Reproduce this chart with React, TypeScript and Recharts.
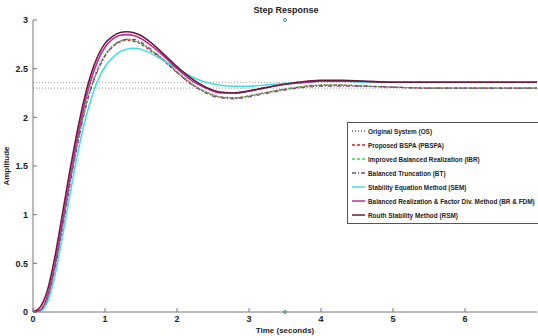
import {
  LineChart,
  Line,
  XAxis,
  YAxis,
  ReferenceLine,
  ReferenceDot
} from 'recharts'

const time = [0, 0.1, 0.2, 0.3, 0.4, 0.5, 0.6, 0.7, 0.8, 0.9, 1.0, 1.1, 1.2, 1.3, 1.4, 1.5, 1.6, 1.8, 2.0, 2.2, 2.4, 2.6, 2.8, 3.0, 3.2, 3.5, 3.8, 4.0, 4.3, 4.6, 5.0, 5.5, 6.0, 6.5, 7.0]

const os = [0, 0.02, 0.15, 0.45, 0.85, 1.28, 1.68, 2.03, 2.3, 2.5, 2.64, 2.73, 2.78, 2.8, 2.79, 2.76, 2.71, 2.6, 2.47, 2.35, 2.26, 2.21, 2.2, 2.22, 2.25, 2.29, 2.32, 2.33, 2.33, 2.32, 2.31, 2.3, 2.3, 2.3, 2.3]
const pbspa = [0, 0.02, 0.14, 0.44, 0.84, 1.27, 1.67, 2.02, 2.29, 2.49, 2.63, 2.72, 2.77, 2.79, 2.78, 2.75, 2.7, 2.59, 2.46, 2.34, 2.26, 2.21, 2.2, 2.22, 2.25, 2.29, 2.32, 2.33, 2.33, 2.32, 2.31, 2.3, 2.3, 2.3, 2.3]
const ibr = [0, 0.02, 0.15, 0.45, 0.85, 1.28, 1.68, 2.03, 2.3, 2.5, 2.64, 2.73, 2.78, 2.8, 2.79, 2.76, 2.71, 2.6, 2.47, 2.35, 2.26, 2.21, 2.2, 2.22, 2.25, 2.29, 2.32, 2.33, 2.33, 2.32, 2.31, 2.3, 2.3, 2.3, 2.3]
const bt = [0, 0.01, 0.13, 0.42, 0.82, 1.25, 1.65, 2.0, 2.28, 2.48, 2.63, 2.72, 2.78, 2.8, 2.8, 2.77, 2.72, 2.6, 2.46, 2.34, 2.25, 2.2, 2.19, 2.21, 2.24, 2.28, 2.31, 2.32, 2.32, 2.32, 2.31, 2.3, 2.3, 2.3, 2.3]
const sem = [0, 0.01, 0.1, 0.36, 0.74, 1.15, 1.55, 1.9, 2.17, 2.38, 2.52, 2.61, 2.67, 2.7, 2.71, 2.7, 2.67, 2.59, 2.5, 2.42, 2.36, 2.33, 2.32, 2.32, 2.33, 2.35, 2.36, 2.37, 2.37, 2.36, 2.36, 2.36, 2.36, 2.36, 2.36]
const brfdm = [0, 0.02, 0.16, 0.47, 0.88, 1.31, 1.72, 2.08, 2.37, 2.58, 2.72, 2.8, 2.84, 2.85, 2.84, 2.81, 2.76, 2.64, 2.5, 2.38, 2.3, 2.25, 2.25, 2.27, 2.3, 2.34, 2.36, 2.37, 2.37, 2.37, 2.36, 2.36, 2.36, 2.36, 2.36]
const rsm = [0, 0.05, 0.22, 0.55, 0.97, 1.4, 1.8, 2.15, 2.43, 2.63, 2.76, 2.83, 2.87, 2.88, 2.87, 2.84, 2.79, 2.66, 2.52, 2.4, 2.31, 2.26, 2.25, 2.27, 2.3, 2.34, 2.37, 2.38, 2.38, 2.37, 2.36, 2.36, 2.36, 2.36, 2.36]

const xTicks = [0, 1, 2, 3, 4, 5, 6]
const yTicks = [0, 0.5, 1, 1.5, 2, 2.5, 3]
const finalValues = [2.36, 2.3]

const series = [
  { key: 'os', name: 'Original System (OS)', color: '#5a5aa6', dash: '1 2', width: 1.2 },
  { key: 'pbspa', name: 'Proposed BSPA (PBSPA)', color: '#d0202a', dash: '3 2', width: 1.2 },
  { key: 'ibr', name: 'Improved Balanced Realization (IBR)', color: '#4ccc4c', dash: '3 2', width: 1.2 },
  { key: 'bt', name: 'Balanced Truncation (BT)', color: '#6e4a7e', dash: '4 2 1 2', width: 1.2 },
  { key: 'sem', name: 'Stability Equation Method (SEM)', color: '#44dede', dash: undefined, width: 1.6 },
  { key: 'brfdm', name: 'Balanced Realization & Factor Div. Method (BR & FDM)', color: '#c0309a', dash: undefined, width: 1.6 },
  { key: 'rsm', name: 'Routh Stability Method (RSM)', color: '#6a1a3a', dash: undefined, width: 1.6 }
]

const data = time.map((t, i) => ({
  t,
  os: os[i],
  pbspa: pbspa[i],
  ibr: ibr[i],
  bt: bt[i],
  sem: sem[i],
  brfdm: brfdm[i],
  rsm: rsm[i]
}))

const FONT = '"Liberation Sans", Arial, sans-serif'
const tickStyle = { fontSize: 9, fontWeight: 700, fill: '#222', fontFamily: FONT }

// --- legend box, MATLAB style (drawn over the chart, runs off the right edge) ---
function LegendBox() {
  return (
    <div style={{
      position: 'absolute',
      top: 122,
      left: 347,
      border: '1px solid #555',
      background: '#fff',
      padding: '1px 4px',
      width: 200,
      fontFamily: FONT,
      fontSize: 8,
      fontWeight: 700,
      color: '#222'
    }}>
      {series.map(s => (
        <div key={s.key} style={{ display: 'flex', alignItems: 'center', height: 14, whiteSpace: 'nowrap' }}>
          <svg width={13} height={6} style={{ marginRight: 3, flexShrink: 0 }}>
            <line x1={0} y1={3} x2={13} y2={3} stroke={s.color} strokeWidth={1.5} strokeDasharray={s.dash} />
          </svg>
          <span style={{ display: 'inline-block', transform: 'scaleX(0.8)', transformOrigin: 'left center' }}>
            {s.name}
          </span>
        </div>
      ))}
    </div>
  )
}

export default function App() {
  return (
    <div style={{ position: 'absolute', left: 0, top: 0, width: 538, height: 336, overflow: 'hidden', background: '#fff' }}>
      <div style={{
        position: 'absolute', top: 5, left: 0, width: 572, textAlign: 'center',
        fontFamily: FONT, fontSize: 9, fontWeight: 700, color: '#222'
      }}>
        Step Response
      </div>
      <LineChart width={538} height={336} data={data} margin={{ top: 20, right: 1, bottom: 0, left: 0 }}>
        <XAxis
          dataKey="t"
          type="number"
          domain={[0, 7]}
          ticks={xTicks}
          tick={tickStyle}
          tickSize={-4}
          tickMargin={8}
          stroke="#777"
          height={24}
          label={{ value: 'Time (seconds)', position: 'insideBottom', offset: 3, style: { ...tickStyle, fontSize: 8 } }}
        />
        <XAxis
          xAxisId="top"
          orientation="top"
          dataKey="t"
          type="number"
          domain={[0, 7]}
          ticks={xTicks}
          tick={false}
          tickSize={-4}
          stroke="#777"
          height={0}
        />
        <YAxis
          type="number"
          domain={[0, 3]}
          ticks={yTicks}
          tick={tickStyle}
          tickSize={-4}
          tickMargin={9}
          stroke="#777"
          width={33}
          label={{ value: 'Amplitude', angle: -90, position: 'insideLeft', offset: 6, style: { ...tickStyle, fontSize: 8, textAnchor: 'middle' } }}
        />
        <YAxis
          yAxisId="right"
          orientation="right"
          type="number"
          domain={[0, 3]}
          ticks={yTicks}
          tick={false}
          tickSize={-4}
          stroke="#777"
          width={0}
        />

        {finalValues.map(v => (
          <ReferenceLine key={v} y={v} stroke="#999" strokeDasharray="1 2" strokeWidth={1} />
        ))}

        {series.map(s => (
          <Line
            key={s.key}
            type="monotone"
            dataKey={s.key}
            name={s.name}
            stroke={s.color}
            strokeWidth={s.width}
            strokeDasharray={s.dash}
            dot={false}
            isAnimationActive={false}
          />
        ))}

        <ReferenceDot x={3.5} y={3} r={1.5} fill="none" stroke="#3a9a6a" ifOverflow="visible" />
        <ReferenceDot x={3.5} y={0} r={1.5} fill="none" stroke="#3a9a6a" ifOverflow="visible" />
      </LineChart>
      <LegendBox />
    </div>
  )
}
